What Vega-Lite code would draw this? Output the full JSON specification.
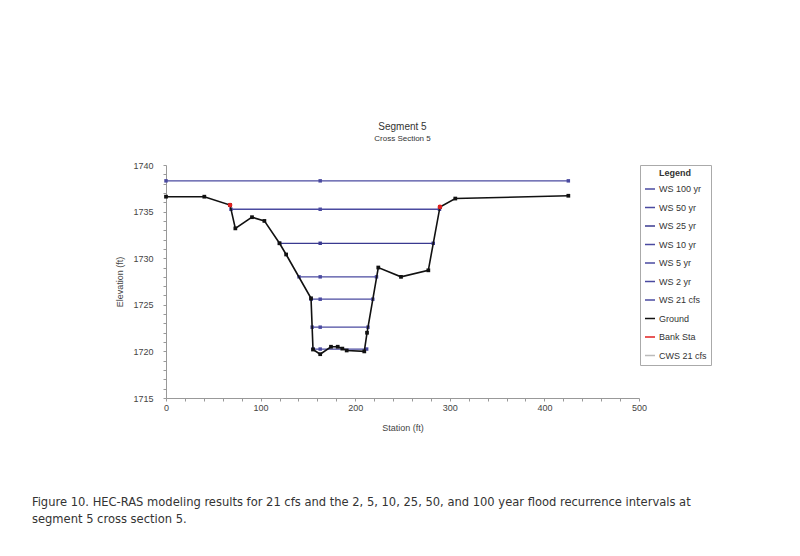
{
  "$schema": "https://vega.github.io/schema/vega-lite/v6.json",
  "background": "white",
  "padding": {"left": 31, "top": 122, "right": 10, "bottom": 10},
  "autosize": {"type": "pad"},
  "title": {
    "text": ["Figure 10. HEC-RAS modeling results for 21 cfs and the 2, 5, 10, 25, 50, and 100 year flood recurrence intervals at", "segment 5 cross section 5."],
    "orient": "bottom",
    "anchor": "start",
    "font": "DejaVu Sans Condensed, Liberation Sans",
    "fontSize": 12.8,
    "fontWeight": "normal",
    "color": "#333333",
    "lineHeight": 17,
    "offset": 64,
    "dx": -84
  },
  "datasets": {
    "ground": [
      {"series": "Ground", "station": 0, "elev": 1736.6},
      {"series": "Ground", "station": 40.5, "elev": 1736.6},
      {"series": "Ground", "station": 67.7, "elev": 1735.7},
      {"series": "Ground", "station": 73.3, "elev": 1733.2},
      {"series": "Ground", "station": 90.9, "elev": 1734.4},
      {"series": "Ground", "station": 104, "elev": 1734.0},
      {"series": "Ground", "station": 120, "elev": 1731.6},
      {"series": "Ground", "station": 127, "elev": 1730.4},
      {"series": "Ground", "station": 153.3, "elev": 1725.7},
      {"series": "Ground", "station": 155.4, "elev": 1720.2},
      {"series": "Ground", "station": 163, "elev": 1719.7},
      {"series": "Ground", "station": 174.4, "elev": 1720.5},
      {"series": "Ground", "station": 181.5, "elev": 1720.5},
      {"series": "Ground", "station": 186.4, "elev": 1720.3},
      {"series": "Ground", "station": 191, "elev": 1720.1},
      {"series": "Ground", "station": 209.6, "elev": 1720.0},
      {"series": "Ground", "station": 212.5, "elev": 1722.0},
      {"series": "Ground", "station": 224.4, "elev": 1729.0},
      {"series": "Ground", "station": 248.4, "elev": 1728.0},
      {"series": "Ground", "station": 277.3, "elev": 1728.7},
      {"series": "Ground", "station": 289.6, "elev": 1735.5},
      {"series": "Ground", "station": 305.8, "elev": 1736.4},
      {"series": "Ground", "station": 425.3, "elev": 1736.7}
    ],
    "bank": [
      {"series": "Bank Sta", "station": 67.7, "elev": 1735.7},
      {"series": "Bank Sta", "station": 289.6, "elev": 1735.5}
    ],
    "ws": [
      {"series": "WS 100 yr", "station": 0, "elev": 1738.3},
      {"series": "WS 100 yr", "station": 163, "elev": 1738.3},
      {"series": "WS 100 yr", "station": 425.3, "elev": 1738.3},
      {"series": "WS 50 yr", "station": 68.7, "elev": 1735.25},
      {"series": "WS 50 yr", "station": 163, "elev": 1735.25},
      {"series": "WS 50 yr", "station": 289.1, "elev": 1735.25},
      {"series": "WS 25 yr", "station": 120, "elev": 1731.6},
      {"series": "WS 25 yr", "station": 163, "elev": 1731.6},
      {"series": "WS 25 yr", "station": 282.5, "elev": 1731.6},
      {"series": "WS 10 yr", "station": 140.6, "elev": 1728.0},
      {"series": "WS 10 yr", "station": 163, "elev": 1728.0},
      {"series": "WS 10 yr", "station": 222.5, "elev": 1728.0},
      {"series": "WS 5 yr", "station": 153.4, "elev": 1725.6},
      {"series": "WS 5 yr", "station": 163, "elev": 1725.6},
      {"series": "WS 5 yr", "station": 218.6, "elev": 1725.6},
      {"series": "WS 2 yr", "station": 154.5, "elev": 1722.6},
      {"series": "WS 2 yr", "station": 163, "elev": 1722.6},
      {"series": "WS 2 yr", "station": 213.5, "elev": 1722.6},
      {"series": "WS 21 cfs", "station": 155.6, "elev": 1720.25},
      {"series": "WS 21 cfs", "station": 163, "elev": 1720.25},
      {"series": "WS 21 cfs", "station": 212.1, "elev": 1720.25}
    ]
  },
  "vconcat": [
    {
      "width": 473,
      "height": 233,
      "title": {
        "text": "Segment 5",
        "subtitle": "Cross Section 5",
        "anchor": "middle",
        "font": "Liberation Sans",
        "fontSize": 10,
        "fontWeight": "normal",
        "color": "#333333",
        "subtitleFont": "Liberation Sans",
        "subtitleFontSize": 8,
        "subtitleColor": "#333333",
        "subtitlePadding": 3,
        "offset": 18
      },
      "layer": [
        {
          "data": {"name": "ws"},
          "mark": {"type": "line", "strokeWidth": 1.3, "point": {"size": 12, "filled": true, "shape": "square"}},
          "encoding": {
            "x": {"field": "station", "type": "quantitative"},
            "y": {"field": "elev", "type": "quantitative"},
            "detail": {"field": "series"},
            "color": {"field": "series", "type": "nominal"}
          }
        },
        {
          "data": {"name": "ground"},
          "mark": {"type": "line", "strokeWidth": 1.6, "point": {"size": 14, "filled": true, "shape": "square"}},
          "encoding": {
            "x": {"field": "station", "type": "quantitative"},
            "y": {"field": "elev", "type": "quantitative"},
            "color": {"field": "series", "type": "nominal"}
          }
        },
        {
          "data": {"name": "bank"},
          "mark": {"type": "point", "filled": true, "size": 22, "opacity": 1},
          "encoding": {
            "x": {"field": "station", "type": "quantitative",
              "scale": {"domain": [0, 500], "nice": false},
              "axis": {
                "title": "Station (ft)",
                "values": [0,20,40,60,80,100,120,140,160,180,200,220,240,260,280,300,320,340,360,380,400,420,440,460,480,500],
                "tickCount": 200,
                "labelExpr": "datum.value % 100 === 0 ? datum.label : ''",
                "labelOverlap": false,
                "labelBound": false,
                "labelFlush": false,
                "grid": false,
                "domainColor": "#999999",
                "tickColor": "#999999",
                "tickSize": 3,
                "labelFont": "Liberation Sans",
                "labelFontSize": 9,
                "labelColor": "#444444",
                "labelPadding": 2,
                "titleFont": "Liberation Sans",
                "titleFontSize": 9,
                "titleFontWeight": "normal",
                "titleColor": "#444444",
                "titlePadding": 11
              }
            },
            "y": {"field": "elev", "type": "quantitative",
              "scale": {"domain": [1715, 1740], "nice": false, "zero": false},
              "axis": {
                "title": "Elevation (ft)",
                "values": [1715,1716,1717,1718,1719,1720,1721,1722,1723,1724,1725,1726,1727,1728,1729,1730,1731,1732,1733,1734,1735,1736,1737,1738,1739,1740],
                "tickCount": 200,
                "labelExpr": "datum.value % 5 === 0 ? datum.label : ''",
                "labelOverlap": false,
                "labelBound": false,
                "labelFlush": false,
                "format": "d",
                "grid": false,
                "domainColor": "#999999",
                "tickColor": "#999999",
                "tickSize": 3,
                "labelFont": "Liberation Sans",
                "labelFontSize": 9,
                "labelColor": "#444444",
                "labelPadding": 10,
                "titleFont": "Liberation Sans",
                "titleFontSize": 9,
                "titleFontWeight": "normal",
                "titleColor": "#444444",
                "titlePadding": 8
              }
            },
            "color": {"field": "series", "type": "nominal",
              "scale": {
                "domain": ["WS 100 yr", "WS 50 yr", "WS 25 yr", "WS 10 yr", "WS 5 yr", "WS 2 yr", "WS 21 cfs", "Ground", "Bank Sta", "CWS 21 cfs"],
                "range": ["#4a4aa0", "#4a4aa0", "#3a3a90", "#4a4aa0", "#4a4aa0", "#4a4aa0", "#4a4aa0", "#111111", "#e02020", "#bbbbbb"]
              },
              "legend": {
                "title": "Legend",
                "titleAnchor": "middle",
                "titleFont": "Liberation Sans",
                "titleFontSize": 9,
                "titleFontWeight": "bold",
                "titleColor": "#333333",
                "labelFont": "Liberation Sans",
                "labelFontSize": 9,
                "labelColor": "#333333",
                "symbolType": "stroke",
                "symbolStrokeWidth": 1.5,
                "symbolSize": 100,
                "rowPadding": 7.5,
                "strokeColor": "#aaaaaa",
                "padding": 4,
                "offset": -7,
                "labelOffset": 3
              }
            }
          }
        }
      ]
    }
  ],
  "config": {
    "view": {"stroke": null},
    "legend": {"symbolLimit": 20}
  }
}
